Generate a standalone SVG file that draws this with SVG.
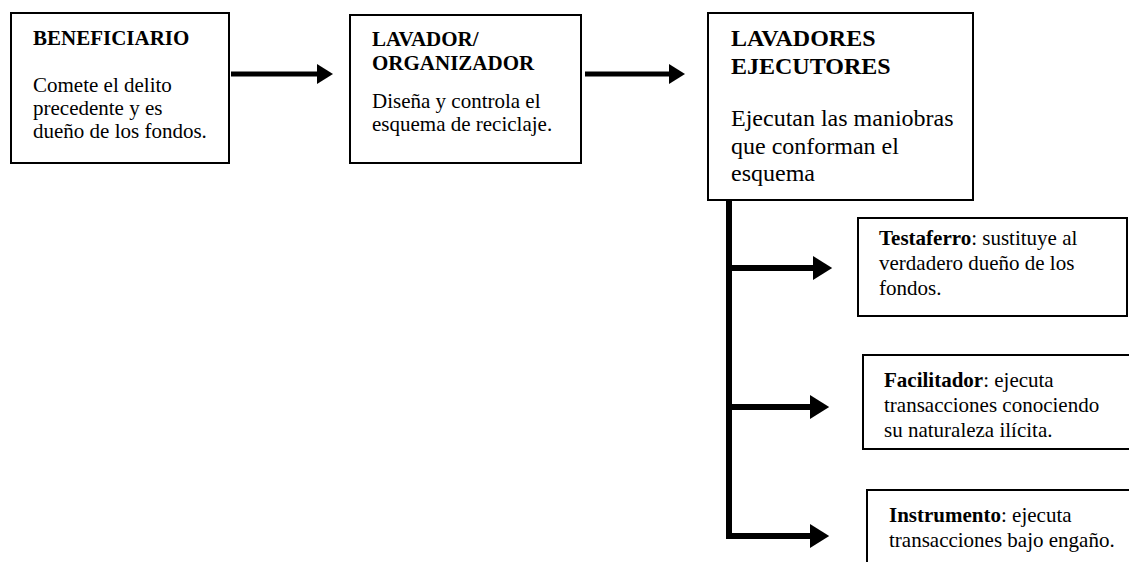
<svg xmlns="http://www.w3.org/2000/svg" width="1129" height="562" viewBox="0 0 1129 562">
<style>
.box{fill:#fff;stroke:#000;stroke-width:2}
.t{font-family:"Liberation Serif","Times New Roman",serif;fill:#000}
.b{font-weight:bold}
.s21{font-size:21px}
.s24{font-size:24px}
.ln{stroke:#000;stroke-width:6;fill:none}
</style>
<defs>
<marker id="ah" markerWidth="4" markerHeight="4" refX="0" refY="2" orient="auto" markerUnits="strokeWidth">
<path d="M0,0 L3.2,2 L0,4 Z" fill="#000"/>
</marker>
</defs>
<rect width="1129" height="562" fill="#fff"/>
<g id="beneficiario">
<rect class="box" x="11" y="13" width="218" height="150"/>
<text class="t s21 b" x="33" y="45">BENEFICIARIO</text>
<text class="t s21" x="33" y="92">Comete el delito</text>
<text class="t s21" x="33" y="115">precedente y es</text>
<text class="t s21" x="33" y="138">dueño de los fondos.</text>
</g>
<g id="lavador">
<rect class="box" x="350" y="15" width="231" height="148"/>
<text class="t s21 b" x="372" y="46">LAVADOR/</text>
<text class="t s21 b" x="372" y="70">ORGANIZADOR</text>
<text class="t s21" x="372" y="108">Diseña y controla el</text>
<text class="t s21" x="372" y="131">esquema de reciclaje.</text>
</g>
<g id="ejecutores">
<rect class="box" x="708" y="13" width="265" height="187"/>
<text class="t s24 b" x="731" y="46">LAVADORES</text>
<text class="t s24 b" x="731" y="74">EJECUTORES</text>
<text class="t s24" x="731" y="126">Ejecutan las maniobras</text>
<text class="t s24" x="731" y="154">que conforman el</text>
<text class="t s24" x="731" y="181">esquema</text>
</g>
<g id="testaferro">
<rect class="box" x="858" y="218" width="269" height="98"/>
<text class="t s21" x="879" y="245"><tspan class="b">Testaferro</tspan>: sustituye al</text>
<text class="t s21" x="879" y="270">verdadero dueño de los</text>
<text class="t s21" x="879" y="295">fondos.</text>
</g>
<g id="facilitador">
<rect class="box" x="863" y="355" width="280" height="94"/>
<text class="t s21" x="884" y="387"><tspan class="b">Facilitador</tspan>: ejecuta</text>
<text class="t s21" x="884" y="412">transacciones conociendo</text>
<text class="t s21" x="884" y="437">su naturaleza ilícita.</text>
</g>
<g id="instrumento">
<rect class="box" x="867" y="490" width="280" height="90"/>
<text class="t s21" x="889" y="522"><tspan class="b">Instrumento</tspan>: ejecuta</text>
<text class="t s21" x="889" y="547">transacciones bajo engaño.</text>
</g>
<g id="connectors">
<line class="ln" x1="231" y1="74" x2="317" y2="74" marker-end="url(#ah)" style="stroke-width:5"/>
<line class="ln" x1="585" y1="74" x2="669" y2="74" marker-end="url(#ah)" style="stroke-width:5"/>
<line class="ln" x1="729" y1="200" x2="729" y2="539"/>
<line class="ln" x1="726" y1="268" x2="813" y2="268" marker-end="url(#ah)"/>
<line class="ln" x1="726" y1="407" x2="810" y2="407" marker-end="url(#ah)"/>
<line class="ln" x1="726" y1="536" x2="810" y2="536" marker-end="url(#ah)"/>
</g>
</svg>
